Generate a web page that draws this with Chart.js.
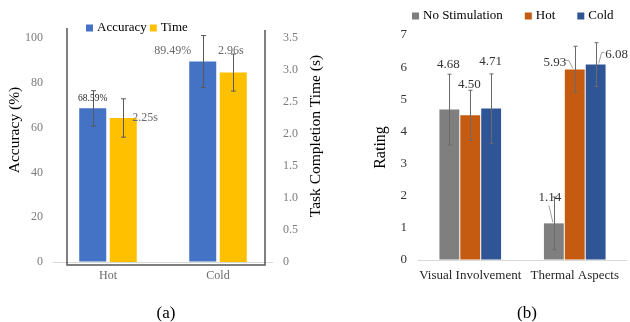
<!DOCTYPE html>
<html>
<head>
<meta charset="utf-8">
<script src="https://cdn.jsdelivr.net/npm/chart.js@4"></script>
<style>
  body { margin: 0; width: 630px; height: 322px; background: #fff; position: relative; overflow: hidden; font-family: 'Liberation Serif', serif; }
  #chartA { position: absolute; left: 0; top: 0; }
  #chartB { position: absolute; left: 326px; top: 0; }
  .caption { position: absolute; top: 302px; width: 40px; margin-left: -20px; text-align: center; font-size: 17px; line-height: 22px; color: #000; }
</style>
</head>
<body>
<canvas id="chartA" width="326" height="322"></canvas>
<canvas id="chartB" width="304" height="322"></canvas>
<div class="caption" style="left:166px">(a)</div>
<div class="caption" style="left:527px">(b)</div>
<script>
// (a) accuracy / completion time
const tempLabels = ['Hot', 'Cold'];
const accuracy = [68.59, 89.49];
const accuracyErr = [7.9, 11.6];
const taskTime = [2.25, 2.96];
const taskTimeErr = [0.30, 0.29];

// (b) ratings
const ratingLabels = ['Visual Involvement', 'Thermal Aspects'];
const noStim = [4.68, 1.14];
const noStimErr = [1.1, 0.82];
const hot = [4.50, 5.93];
const hotErr = [0.78, 0.72];
const cold = [4.71, 6.08];
const coldErr = [1.08, 0.68];

const SERIF = '"Liberation Serif", "Times New Roman", serif';

const errorBars = {
  id: 'errorBars',
  afterDatasetsDraw(chart, args, opts) {
    const ctx = chart.ctx;
    chart.data.datasets.forEach((ds, i) => {
      const meta = chart.getDatasetMeta(i);
      const scale = chart.scales[meta.yAxisID];
      meta.data.forEach((bar, j) => {
        const v = ds.data[j], e = ds.err[j];
        const x = Math.round(bar.x) + 0.5;
        const top = scale.getPixelForValue(v + e);
        const bot = scale.getPixelForValue(v - e);
        ctx.save();
        ctx.strokeStyle = opts.color;
        ctx.lineWidth = 1;
        ctx.beginPath();
        ctx.moveTo(x, top); ctx.lineTo(x, bot);
        ctx.moveTo(x - opts.cap, top); ctx.lineTo(x + opts.cap, top);
        ctx.moveTo(x - opts.cap, bot); ctx.lineTo(x + opts.cap, bot);
        ctx.stroke();
        ctx.restore();
      });
    });
  }
};

const valueLabels = {
  id: 'valueLabels',
  afterDatasetsDraw(chart) {
    const ctx = chart.ctx;
    chart.data.datasets.forEach((ds, i) => {
      const meta = chart.getDatasetMeta(i);
      meta.data.forEach((bar, j) => {
        const s = ds.labelStyle[j];
        ctx.save();
        if (s.leader) {
          ctx.strokeStyle = '#a0a0a0';
          ctx.lineWidth = 1;
          ctx.beginPath();
          s.leader.forEach((p, k) => {
            if (k === 0) ctx.moveTo(bar.x + p[0], bar.y + p[1]);
            else ctx.lineTo(bar.x + p[0], bar.y + p[1]);
          });
          ctx.stroke();
        }
        ctx.font = s.size + 'px ' + SERIF;
        ctx.fillStyle = s.color;
        ctx.textAlign = s.align || 'center';
        ctx.textBaseline = 'middle';
        ctx.fillText(ds.valueText[j], bar.x + s.dx, bar.y + s.dy);
        ctx.restore();
      });
    });
  }
};

const boxLegend = {
  id: 'boxLegend',
  afterDraw(chart, args, opts) {
    const ctx = chart.ctx;
    let x = opts.x;
    ctx.save();
    ctx.font = opts.size + 'px ' + SERIF;
    ctx.textBaseline = 'middle';
    ctx.textAlign = 'left';
    chart.data.datasets.forEach(ds => {
      ctx.fillStyle = ds.backgroundColor;
      ctx.fillRect(x, opts.y - 3.5, 7, 7);
      ctx.fillStyle = opts.color;
      ctx.fillText(ds.label, x + 11, opts.y);
      x += 11 + ctx.measureText(ds.label).width + opts.gap;
    });
    ctx.restore();
  }
};

const sideTitles = {
  id: 'sideTitles',
  afterDraw(chart, args, opts) {
    const ctx = chart.ctx;
    opts.items.forEach(t => {
      ctx.save();
      ctx.translate(t.x, t.y);
      ctx.rotate(-Math.PI / 2);
      ctx.font = t.size + 'px ' + SERIF;
      ctx.fillStyle = '#000';
      ctx.textAlign = 'center';
      ctx.textBaseline = 'middle';
      ctx.fillText(t.text, 0, 0);
      ctx.restore();
    });
  }
};

const plotFrame = {
  id: 'plotFrame',
  beforeDatasetsDraw(chart) {
    const {ctx, chartArea: a} = chart;
    ctx.save();
    ctx.strokeStyle = '#555';
    ctx.lineWidth = 1.5;
    ctx.beginPath();
    ctx.moveTo(a.left + 14, a.top - 10);
    ctx.lineTo(a.left + 14, a.bottom + 3);
    ctx.lineTo(a.right - 8, a.bottom + 3);
    ctx.lineTo(a.right - 8, a.top - 8);
    ctx.stroke();
    ctx.restore();
  }
};

const zeroGrid = ctx => (ctx.tick && ctx.tick.value === 0) ? '#d9d9d9' : 'rgba(0,0,0,0)';

new Chart(document.getElementById('chartA'), {
  type: 'bar',
  data: {
    labels: tempLabels,
    datasets: [{
      label: 'Accuracy',
      data: accuracy,
      err: accuracyErr,
      valueText: accuracy.map(v => v.toFixed(2) + '%'),
      labelStyle: [
        {dx: 0, dy: -9.5, size: 9.5, color: '#262626'},
        {dx: -30, dy: -11, size: 12, color: '#6a6a6a'}
      ],
      backgroundColor: '#4472C4',
      yAxisID: 'y',
      categoryPercentage: 0.555,
      barPercentage: 0.885
    }, {
      label: 'Time',
      data: taskTime,
      err: taskTimeErr,
      valueText: taskTime.map(v => v.toFixed(2) + 's'),
      labelStyle: [
        {dx: 9, dy: 0, size: 12, color: '#6a6a6a', align: 'left'},
        {dx: -2.5, dy: -22, size: 12, color: '#6a6a6a'}
      ],
      backgroundColor: '#FFC000',
      yAxisID: 'y1',
      categoryPercentage: 0.555,
      barPercentage: 0.885
    }]
  },
  options: {
    responsive: false,
    animation: false,
    layout: { padding: { left: 0, right: 0, top: 38, bottom: 35 } },
    plugins: {
      legend: { display: false },
      tooltip: { enabled: false },
      errorBars: { color: '#595959', cap: 2.5 },
      boxLegend: { x: 86, y: 28, size: 13, gap: 3, color: '#000' },
      sideTitles: { items: [
        { text: 'Accuracy (%)', x: 15, y: 130, size: 15.5 },
        { text: 'Task Completion Time (s)', x: 316, y: 136, size: 15.5 }
      ] }
    },
    scales: {
      x: {
        grid: { display: false, drawTicks: false },
        border: { display: false },
        ticks: { color: '#6a6a6a', font: { family: SERIF, size: 12 }, padding: 7, maxRotation: 0, autoSkip: false },
        afterFit: s => { s.height = 25; }
      },
      y: {
        position: 'left',
        min: 0, max: 100,
        ticks: { stepSize: 20, color: '#7a7a7a', font: { family: SERIF, size: 12 }, padding: 10 },
        grid: { color: zeroGrid, drawTicks: false },
        border: { display: false },
        afterFit: s => { s.width = 53; }
      },
      y1: {
        position: 'right',
        min: 0, max: 3.5,
        ticks: { stepSize: 0.5, color: '#7a7a7a', font: { family: SERIF, size: 12 }, padding: 10 },
        grid: { display: false, drawTicks: false },
        border: { display: false },
        afterFit: s => { s.width = 53; }
      }
    }
  },
  plugins: [plotFrame, errorBars, valueLabels, boxLegend, sideTitles]
});

new Chart(document.getElementById('chartB'), {
  type: 'bar',
  data: {
    labels: ratingLabels,
    datasets: [{
      label: 'No Stimulation',
      data: noStim,
      err: noStimErr,
      valueText: noStim.map(v => v.toFixed(2)),
      labelStyle: [
        {dx: -1, dy: -45, size: 13, color: '#333'},
        {dx: -4, dy: -26, size: 13, color: '#333', leader: [[-5, -18], [-1, -1]]}
      ],
      backgroundColor: '#7F7F7F'
    }, {
      label: 'Hot',
      data: hot,
      err: hotErr,
      valueText: hot.map(v => v.toFixed(2)),
      labelStyle: [
        {dx: -1, dy: -31, size: 13, color: '#333'},
        {dx: -20, dy: -7, size: 13, color: '#333', leader: [[-10, -9], [-6, -9], [-2, -1]]}
      ],
      backgroundColor: '#C55A11'
    }, {
      label: 'Cold',
      data: cold,
      err: coldErr,
      valueText: cold.map(v => v.toFixed(2)),
      labelStyle: [
        {dx: -0.5, dy: -47, size: 13, color: '#333'},
        {dx: 21, dy: -10, size: 13, color: '#333', leader: [[9, -12], [6, -12], [3, -1]]}
      ],
      backgroundColor: '#2F5597'
    }]
  },
  options: {
    responsive: false,
    animation: false,
    categoryPercentage: 0.6,
    barPercentage: 0.95,
    layout: { padding: { left: 0, right: 3, top: 35, bottom: 37 } },
    plugins: {
      legend: { display: false },
      tooltip: { enabled: false },
      errorBars: { color: '#6a6a6a', cap: 2 },
      boxLegend: { x: 86, y: 16, size: 13, gap: 22, color: '#000' }
    },
    scales: {
      x: {
        grid: { display: false, drawTicks: false },
        border: { display: false },
        ticks: { color: '#262626', font: { family: SERIF, size: 13 }, padding: 8, maxRotation: 0, minRotation: 0, autoSkip: false },
        afterFit: s => { s.height = 25; }
      },
      y: {
        min: 0, max: 7,
        ticks: { stepSize: 1, color: '#333', font: { family: SERIF, size: 13 }, padding: 11 },
        grid: { color: zeroGrid, drawTicks: false },
        border: { display: false },
        title: { display: true, text: 'Rating', color: '#000', font: { family: SERIF, size: 16, lineHeight: 1.2 }, padding: { top: 45, bottom: 0 } },
        afterFit: s => { s.width = 92; }
      }
    }
  },
  plugins: [errorBars, valueLabels, boxLegend]
});
</script>
</body>
</html>
